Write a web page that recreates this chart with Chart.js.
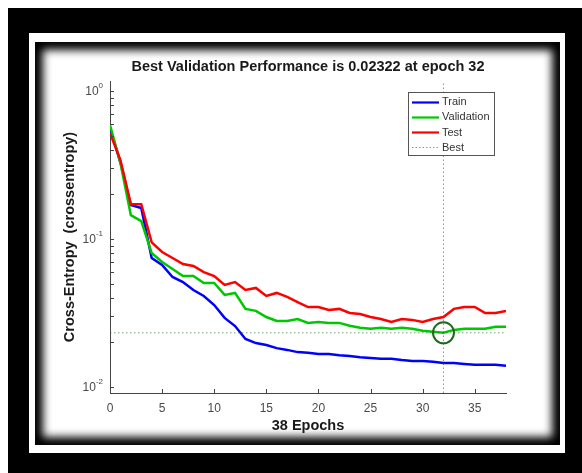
<!DOCTYPE html>
<html>
<head>
<meta charset="utf-8">
<script src="https://cdn.jsdelivr.net/npm/chart.js@4.4.1/dist/chart.umd.min.js"></script>
<style>
html, body { margin: 0; padding: 0; background: #fff; }
#wrap { position: relative; width: 582px; height: 473px; overflow: hidden; }
.f { position: absolute; }
#outer { left: 8px; top: 8px; width: 574px; height: 465px; background: #000; }
#gap { left: 29px; top: 33px; width: 536px; height: 420px; background: #fff; }
#panel { left: 35px; top: 42px; width: 525px; height: 403px; background: #fff; box-shadow: inset 0 0 9px 8px #000; }
#perf { position: absolute; left: 0; top: 0; }
</style>
</head>
<body>
<div id="wrap">
  <div class="f" id="outer"></div>
  <div class="f" id="gap"></div>
  <div class="f" id="panel"></div>
  <canvas id="perf" width="582" height="473"></canvas>
</div>
<script>
// values
const epochs = [0,1,2,3,4,5,6,7,8,9,10,11,12,13,14,15,16,17,18,19,20,21,22,23,24,25,26,27,28,29,30,31,32,33,34,35,36,37,38];

const trainLoss = [0.56,0.33,0.17,0.162,0.0744,0.0667,0.0554,0.0512,0.0452,0.0412,0.0358,0.0293,0.0258,0.0211,0.0198,0.0192,0.0183,0.0178,0.0172,
  0.0170,0.0167,0.0167,0.0164,0.0162,0.0159,0.0157,0.0155,0.0155,0.0152,0.0150,0.0150,0.0148,0.0145,0.0145,0.0143,0.0141,0.0141,0.0141,0.0139];

const validLoss = [0.589,0.326,0.145,0.132,0.0804,0.070,0.0627,0.0562,0.0562,0.0504,0.0504,0.0419,0.0432,0.0337,0.0327,0.0297,0.0279,0.0279,0.0288,
  0.0271,0.0275,0.0271,0.0271,0.0259,0.0251,0.0247,0.0251,0.0247,0.0251,0.0247,0.0240,0.0236,0.02322,0.0243,0.0247,0.0247,0.0247,0.0255,0.0255];

const testLoss = [0.52,0.342,0.172,0.172,0.095,0.0817,0.0744,0.0678,0.0657,0.0598,0.0562,0.0489,0.0512,0.0452,0.0467,0.0412,0.0432,0.0406,0.0375,
  0.0347,0.0347,0.0331,0.0337,0.0316,0.0311,0.0297,0.0288,0.0275,0.0288,0.0284,0.0275,0.0288,0.0297,0.0337,0.0347,0.0347,0.0316,0.0316,0.0326];

const bestEpoch = 32;
const bestValue = 0.02322;

const xMin = 0, xMax = 38;
const yMin = 0.0091, yMax = 1.17;

const xTicks = [0,5,10,15,20,25,30,35];
const yMajor = [1, 0.1, 0.01];
const yMajorExp = ['0', '-1', '-2'];
const yMinor = [0.02,0.03,0.04,0.05,0.06,0.07,0.08,0.09,0.2,0.3,0.4,0.5,0.6,0.7,0.8,0.9];

const legendLabels = ['Train', 'Validation', 'Test', 'Best'];
const titleText = 'Best Validation Performance is 0.02322 at epoch 32';

const FONT = '"Liberation Sans", Arial, Helvetica, sans-serif';
const blue = '#0000ff', green = '#00c800', red = '#ff0000';
const bestColor = 'rgba(40,120,40,0.65)';

function pts(ys) {
  return epochs.map(function (e, i) { return { x: e, y: ys[i] }; });
}

const matlabBits = {
  id: 'matlabBits',
  afterDraw(chart) {
    const ctx = chart.ctx;
    const xs = chart.scales.x, ys = chart.scales.y;
    const area = chart.chartArea;
    ctx.save();

    // inward tick marks
    ctx.strokeStyle = '#444';
    ctx.lineWidth = 1;
    ctx.beginPath();
    xTicks.forEach(function (t) {
      const px = Math.round(xs.getPixelForValue(t)) + 0.5;
      ctx.moveTo(px, area.bottom);
      ctx.lineTo(px, area.bottom - 4);
    });
    yMajor.concat(yMinor).forEach(function (v) {
      const py = Math.round(ys.getPixelForValue(v)) + 0.5;
      ctx.moveTo(area.left, py);
      ctx.lineTo(area.left + 4, py);
    });
    ctx.stroke();

    // y tick labels 10^n
    ctx.fillStyle = '#4a4a4a';
    ctx.textBaseline = 'middle';
    ctx.textAlign = 'right';
    yMajor.forEach(function (v, i) {
      const py = ys.getPixelForValue(v);
      const right = area.left - 7;
      ctx.font = '8px ' + FONT;
      const ew = ctx.measureText(yMajorExp[i]).width;
      ctx.fillText(yMajorExp[i], right, py - 5);
      ctx.font = '12px ' + FONT;
      ctx.fillText('10', right - ew, py + 1);
    });

    // title
    ctx.fillStyle = '#1a1a1a';
    ctx.textAlign = 'center';
    ctx.font = 'bold 14.5px ' + FONT;
    ctx.fillText(titleText, (area.left + area.right) / 2, 67);

    // legend
    const lx = 408, ly = 92, lw = 86, lh = 63;
    ctx.fillStyle = '#fff';
    ctx.fillRect(lx, ly, lw, lh);
    ctx.strokeStyle = '#555';
    ctx.lineWidth = 1;
    ctx.strokeRect(lx + 0.5, ly + 0.5, lw, lh);
    const cols = [blue, green, red, bestColor];
    ctx.textAlign = 'left';
    ctx.font = '11px ' + FONT;
    legendLabels.forEach(function (lab, i) {
      const yy = ly + 9.5 + i * 15.3;
      ctx.strokeStyle = cols[i];
      ctx.lineWidth = i < 3 ? 2.2 : 1;
      ctx.setLineDash(i < 3 ? [] : [1.5, 2]);
      ctx.beginPath();
      ctx.moveTo(lx + 4, Math.round(yy) + 0.5);
      ctx.lineTo(lx + 31, Math.round(yy) + 0.5);
      ctx.stroke();
      ctx.setLineDash([]);
      ctx.fillStyle = '#333';
      ctx.fillText(lab, lx + 34, yy + 0.5);
    });

    ctx.restore();
  }
};

const dataPerf = {
  datasets: [
    { label: 'Best circle', data: [{ x: bestEpoch, y: bestValue }], showLine: false,
      pointRadius: 10.5, pointBorderWidth: 2, pointBorderColor: '#1f6a1f', pointBackgroundColor: 'rgba(0,0,0,0)', order: 0 },
    { label: 'Best v', data: [{ x: bestEpoch, y: yMin }, { x: bestEpoch, y: yMax }],
      borderColor: bestColor, borderWidth: 1, borderDash: [1.5, 2.5], pointRadius: 0, order: 1 },
    { label: 'Best h', data: [{ x: xMin, y: bestValue }, { x: xMax, y: bestValue }],
      borderColor: bestColor, borderWidth: 1, borderDash: [1.5, 2.5], pointRadius: 0, order: 2 },
    { label: 'Test', data: pts(testLoss), borderColor: red, borderWidth: 2.5, pointRadius: 0, order: 3 },
    { label: 'Validation', data: pts(validLoss), borderColor: green, borderWidth: 2.5, pointRadius: 0, order: 4 },
    { label: 'Train', data: pts(trainLoss), borderColor: blue, borderWidth: 2.5, pointRadius: 0, order: 5 }
  ]
};

const configPerf = {
  type: 'line',
  data: dataPerf,
  options: {
    responsive: false,
    animation: false,
    devicePixelRatio: 1,
    layout: { padding: { left: 57, right: 76, top: 81, bottom: 35 } },
    scales: {
      x: {
        type: 'linear',
        min: xMin,
        max: xMax,
        afterFit: function (s) { s.height = 45; },
        afterBuildTicks: function (s) { s.ticks = xTicks.map(function (v) { return { value: v }; }); },
        grid: { display: false, drawTicks: false },
        border: { display: true, color: '#444', width: 1 },
        ticks: { padding: 8, color: '#4a4a4a', font: { family: FONT, size: 12 } },
        title: { display: true, text: '38 Epochs', color: '#1a1a1a', padding: { top: 0, bottom: 3 },
                 font: { family: FONT, size: 14.5, weight: 'bold' } }
      },
      y: {
        type: 'logarithmic',
        min: yMin,
        max: yMax,
        afterFit: function (s) { s.width = 53; },
        grid: { display: false, drawTicks: false },
        border: { display: true, color: '#444', width: 1 },
        ticks: { display: false },
        title: { display: true, text: 'Cross-Entropy  (crossentropy)', color: '#1a1a1a', padding: { top: 4, bottom: 0 },
                 font: { family: FONT, size: 14.5, weight: 'bold' } }
      }
    },
    plugins: {
      legend: { display: false },
      tooltip: { enabled: false }
    }
  },
  plugins: [matlabBits]
};

const myChartPerf = new Chart(document.getElementById('perf'), configPerf);
</script>
</body>
</html>
